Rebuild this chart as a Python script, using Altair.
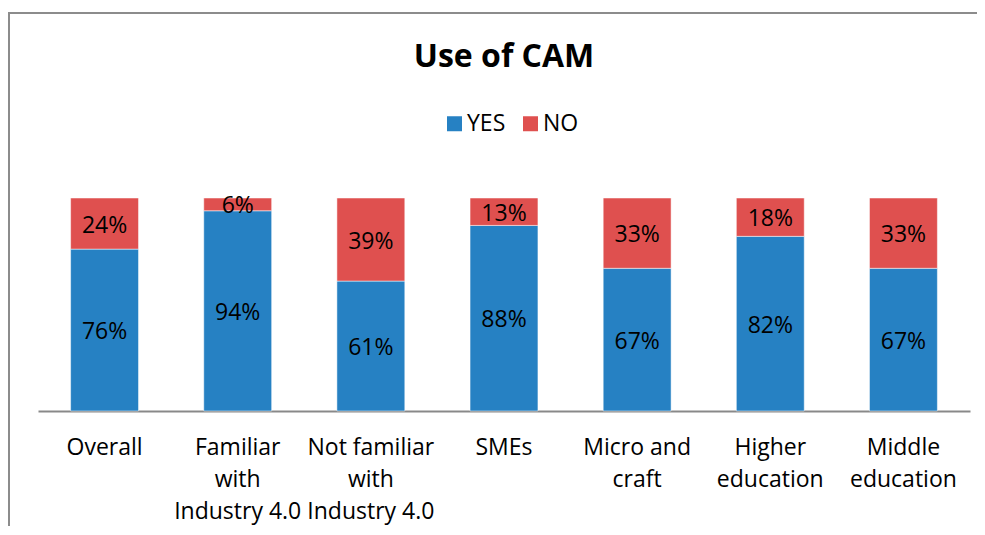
import altair as alt
import pandas as pd

categories = ["Overall", "Familiar|with|Industry 4.0", "Not familiar|with|Industry 4.0",
              "SMEs", "Micro and|craft", "Higher|education", "Middle|education"]
yes_values = [76, 94, 61, 88, 67, 82, 67]
no_values = [24, 6, 39, 13, 33, 18, 33]
series = ["YES", "NO"]
colors = ["#2681C3", "#DF504F"]
title_text = "Use of CAM"

rows = []
for c, yv, nv in zip(categories, yes_values, no_values):
    rows.append({"category": c, "series": "YES", "value": yv, "ord": 0})
    rows.append({"category": c, "series": "NO", "value": nv, "ord": 1})
df = pd.DataFrame(rows)

FONT = "Open Sans"
FS = 23

xenc = alt.X("category:N", sort=categories,
             scale=alt.Scale(paddingInner=0.49, paddingOuter=0.245),
             axis=alt.Axis(title=None, labelAngle=0, ticks=False, domainColor="#898989",
                           domainWidth=2, labelExpr="split(datum.label, '|')",
                           labelFontSize=FS, labelFont=FONT, labelColor="black",
                           labelPadding=25, labelLineHeight=32))

bars = alt.Chart(df).mark_bar(stroke="white", strokeWidth=0.5).encode(
    x=xenc,
    y=alt.Y("value:Q", stack="normalize", scale=alt.Scale(domain=[0, 1]), axis=None),
    color=alt.Color("series:N", scale=alt.Scale(domain=series, range=colors),
                    legend=alt.Legend(orient="none", legendX=405, legendY=-86,
                                      direction="horizontal", title=None,
                                      symbolType="square", symbolSize=225,
                                      symbolStrokeWidth=0, labelFontSize=FS,
                                      labelFont=FONT, labelColor="black",
                                      labelOffset=1, columnPadding=13)),
    order=alt.Order("ord:Q"),
)

text = alt.Chart(df).transform_stack(
    stack="value", groupby=["category"], as_=["v0", "v1"], offset="normalize",
    sort=[alt.SortField("ord", order="ascending")]
).transform_calculate(
    mid="(datum.v0 + datum.v1) / 2", label="datum.value + '%'"
).mark_text(fontSize=FS, font=FONT, color="black", dy=2).encode(
    x=alt.X("category:N", sort=categories),
    y=alt.Y("mid:Q", scale=alt.Scale(domain=[0, 1])),
    text="label:N",
)

title = alt.Chart(alt.Data(values=[{"t": title_text}])).mark_text(
    fontSize=32, font=FONT, fontWeight="bold", color="black", baseline="alphabetic"
).encode(x=alt.value(466), y=alt.value(-131), text="t:N")

border = alt.Chart(alt.Data(values=[{}])).mark_rule(color="#8c8c8c", strokeWidth=2).encode(
    x=alt.value(-29), y=alt.value(-185), y2=alt.value(340))
border_top = alt.Chart(alt.Data(values=[{}])).mark_rule(color="#8c8c8c", strokeWidth=2).encode(
    x=alt.value(-30), x2=alt.value(960), y=alt.value(-185))

chart = alt.layer(bars, text, title, border, border_top).properties(
    width=932, height=213,
    padding={"left": 30, "top": 190, "right": 7, "bottom": 115},
    autosize=alt.AutoSizeParams(type="none"),
).configure_view(stroke=None)

chart.save("out.html", embed_options={"renderer": "svg", "actions": False})
